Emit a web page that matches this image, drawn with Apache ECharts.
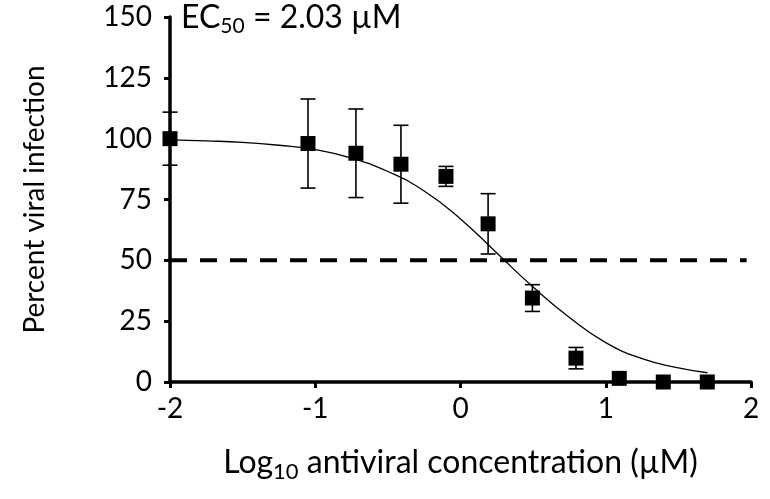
<!DOCTYPE html>
<html>
<head>
<meta charset="utf-8">
<script src="https://cdn.jsdelivr.net/npm/echarts@6/dist/echarts.min.js"></script>
<style>html,body{margin:0;padding:0;background:#fff;}#c{width:770px;height:499px;}</style>
</head>
<body>
<div id="c"></div>
<script>
// Data
const logConc = [-2, -1.05, -0.72, -0.41, -0.10, 0.19, 0.495, 0.795, 1.093, 1.396, 1.699];
const infection = [100, 98, 94, 89.5, 84.5, 65, 34.5, 9.8, 1.5, 0, 0];
const errorSD = [10.9, 18.3, 18.2, 16, 4.1, 12.4, 5.5, 4.4, 0, 0, 0];
const fitX = [-2, -1.75, -1.5, -1.25, -1, -0.75, -0.5, -0.25, 0, 0.25, 0.5, 0.75, 1, 1.25, 1.5, 1.7];
const fitY = [99.5, 99.1, 98.5, 97.3, 95.5, 92, 86.5, 78.5, 67, 53, 39, 26.5, 16.2, 9.6, 5.8, 3.8];
const halfLineX = [-2, 1.97];
const halfLineY = [50, 50];
const xTicks = [-2, -1, 0, 1, 2];
const yTicks = [0, 25, 50, 75, 100, 125, 150];
const ec50Text = '2.03 µM';

const FONT = 'Lato';
const chart = echarts.init(document.getElementById('c'), null, {renderer: 'canvas'});

const errData = logConc.map((x, i) => [x, infection[i] - errorSD[i], infection[i] + errorSD[i]]).filter(d => d[2] > d[1]);

chart.setOption({
  animation: false,
  backgroundColor: '#fff',
  grid: {left: 170, right: 19, top: 17, bottom: 117, containLabel: false},
  xAxis: {
    type: 'value', min: xTicks[0], max: xTicks[xTicks.length - 1], interval: 1,
    axisLine: {onZero: false, lineStyle: {color: '#000', width: 3.5}},
    axisTick: {show: true, inside: false, length: 6, lineStyle: {color: '#000', width: 3}},
    axisLabel: {color: '#000', fontFamily: FONT, fontSize: 28, margin: 13},
    splitLine: {show: false},
    name: 'Log{sub|10} antiviral concentration (µM)',
    nameLocation: 'middle', nameGap: 61,
    nameTextStyle: {color: '#000', fontFamily: FONT, fontSize: 32,
      rich: {sub: {fontFamily: FONT, fontSize: 22, color: '#000', verticalAlign: 'bottom', padding: [18, 0, 0, 0]}}}
  },
  yAxis: {
    type: 'value', min: yTicks[0], max: yTicks[yTicks.length - 1], interval: 25,
    axisLine: {onZero: false, lineStyle: {color: '#000', width: 3.5}},
    axisTick: {show: true, inside: false, length: 6, lineStyle: {color: '#000', width: 3}},
    axisLabel: {color: '#000', fontFamily: FONT, fontSize: 28, margin: 18},
    splitLine: {show: false},
    name: 'Percent viral infection',
    nameLocation: 'middle', nameGap: 121, nameRotate: 90,
    nameTextStyle: {color: '#000', fontFamily: FONT, fontSize: 28}
  },
  graphic: [{
    type: 'text', left: 181, top: 2, z: 100,
    style: {
      text: '{m|EC}{s|50}{m| = ' + ec50Text + '}',
      rich: {
        m: {fontFamily: FONT, fontSize: 32, fill: '#000'},
        s: {fontFamily: FONT, fontSize: 21, fill: '#000', padding: [17, 0, 0, 0]}
      }
    }
  }],
  series: [
    {
      type: 'line', data: halfLineX.map((x, i) => [x, halfLineY[i]]),
      showSymbol: false, silent: true, z: 2,
      lineStyle: {color: '#000', width: 4, type: [17, 13]}
    },
    {
      type: 'line', data: fitX.map((x, i) => [x, fitY[i]]), smooth: true,
      showSymbol: false, silent: true, z: 3,
      lineStyle: {color: '#000', width: 1.3}
    },
    {
      type: 'custom', data: errData, z: 4, clip: false,
      renderItem: function (params, api) {
        const x = api.value(0);
        const lo = api.coord([x, api.value(1)]);
        const hi = api.coord([x, api.value(2)]);
        const w = 7.5;
        const st = {stroke: '#000', lineWidth: 1.6};
        return {type: 'group', children: [
          {type: 'line', shape: {x1: lo[0], y1: lo[1], x2: hi[0], y2: hi[1]}, style: st},
          {type: 'line', shape: {x1: lo[0] - w, y1: lo[1], x2: lo[0] + w, y2: lo[1]}, style: st},
          {type: 'line', shape: {x1: hi[0] - w, y1: hi[1], x2: hi[0] + w, y2: hi[1]}, style: st}
        ]};
      }
    },
    {
      type: 'scatter', data: logConc.map((x, i) => [x, infection[i]]), z: 5, clip: false,
      symbol: 'rect', symbolSize: 15, itemStyle: {color: '#000', opacity: 1}
    }
  ]
});
</script>
</body>
</html>
